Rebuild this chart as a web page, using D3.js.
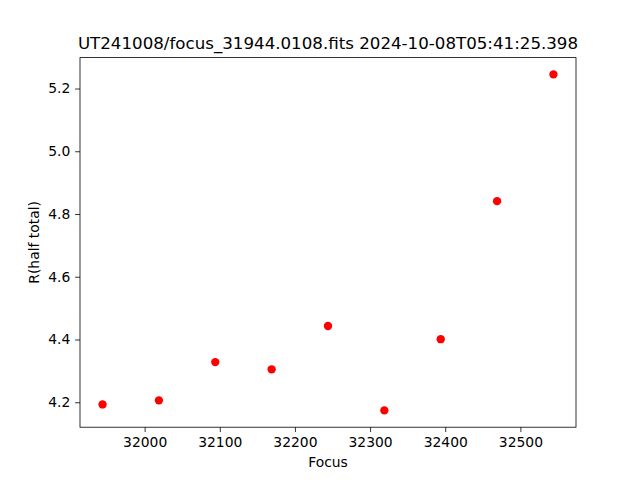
<!DOCTYPE html>
<html>
<head>
<meta charset="utf-8">
<script src="https://cdn.jsdelivr.net/npm/d3@7"></script>
<style>
  body { margin: 0; background: white; }
  svg text { font-family: "DejaVu Sans", sans-serif; fill: #000; }
</style>
</head>
<body>
<div id="chart"></div>
<script>
// focus positions and measured half-total radius
const focusValues = [31944, 32019, 32094, 32169, 32244, 32319, 32394, 32469, 32544];
const radiusValues = [4.193, 4.206, 4.328, 4.305, 4.443, 4.174, 4.401, 4.841, 5.245];
const xTicks = [32000, 32100, 32200, 32300, 32400, 32500];
const yTicks = [4.2, 4.4, 4.6, 4.8, 5.0, 5.2];
const titleText = "UT241008/focus_31944.0108.fits 2024-10-08T05:41:25.398";

function draw() {
  const width = 640, height = 480;
  const margin = { top: 57.6, right: 64, bottom: 52.8, left: 80 };
  const innerW = width - margin.left - margin.right;
  const innerH = height - margin.top - margin.bottom;
  const tickLen = 4.86;

  // matplotlib-like 5% margins
  const pad = ([a, b]) => [a - (b - a) * 0.05, b + (b - a) * 0.05];

  const x = d3.scaleLinear()
    .domain(pad(d3.extent(focusValues)))
    .range([0, innerW]);

  const y = d3.scaleLinear()
    .domain(pad(d3.extent(radiusValues)))
    .range([innerH, 0]);

  const svg = d3.select("#chart")
    .append("svg")
    .attr("width", width)
    .attr("height", height);

  const g = svg.append("g")
    .attr("transform", `translate(${margin.left},${margin.top})`);

  const xAxis = g.append("g")
    .attr("transform", `translate(0,${innerH})`)
    .call(d3.axisBottom(x).tickValues(xTicks).tickFormat(d3.format("d"))
      .tickSizeInner(tickLen).tickSizeOuter(0).tickPadding(tickLen));

  const yAxis = g.append("g")
    .call(d3.axisLeft(y).tickValues(yTicks).tickFormat(d3.format(".1f"))
      .tickSizeInner(tickLen).tickSizeOuter(0).tickPadding(tickLen));

  [xAxis, yAxis].forEach(ax => {
    ax.select(".domain").remove();
    ax.selectAll("line").attr("stroke", "#000").attr("stroke-width", 0.8);
    ax.selectAll("text")
      .style("font-family", "DejaVu Sans, sans-serif")
      .style("font-size", "13.89px")
      .attr("fill", "#000");
  });

  // frame
  g.append("rect")
    .attr("width", innerW)
    .attr("height", innerH)
    .attr("fill", "none")
    .attr("stroke", "#000")
    .attr("stroke-width", 0.8);

  g.selectAll("circle.pt")
    .data(focusValues.map((f, i) => ({ f, r: radiusValues[i] })))
    .enter()
    .append("circle")
    .attr("class", "pt")
    .attr("cx", d => x(d.f))
    .attr("cy", d => y(d.r))
    .attr("r", 4.17)
    .attr("fill", "#ff0000");

  svg.append("text")
    .attr("x", margin.left + innerW / 2)
    .attr("y", margin.top - 8.33)
    .attr("text-anchor", "middle")
    .style("font-size", "16.67px")
    .text(titleText);

  svg.append("text")
    .attr("x", margin.left + innerW / 2)
    .attr("y", 467)
    .attr("text-anchor", "middle")
    .style("font-size", "13.89px")
    .text("Focus");

  svg.append("text")
    .attr("transform", `translate(39,${margin.top + innerH / 2}) rotate(-90)`)
    .attr("text-anchor", "middle")
    .style("font-size", "13.89px")
    .text("R(half total)");
}

window.onload = function () {
  draw();
};
</script>
</body>
</html>
